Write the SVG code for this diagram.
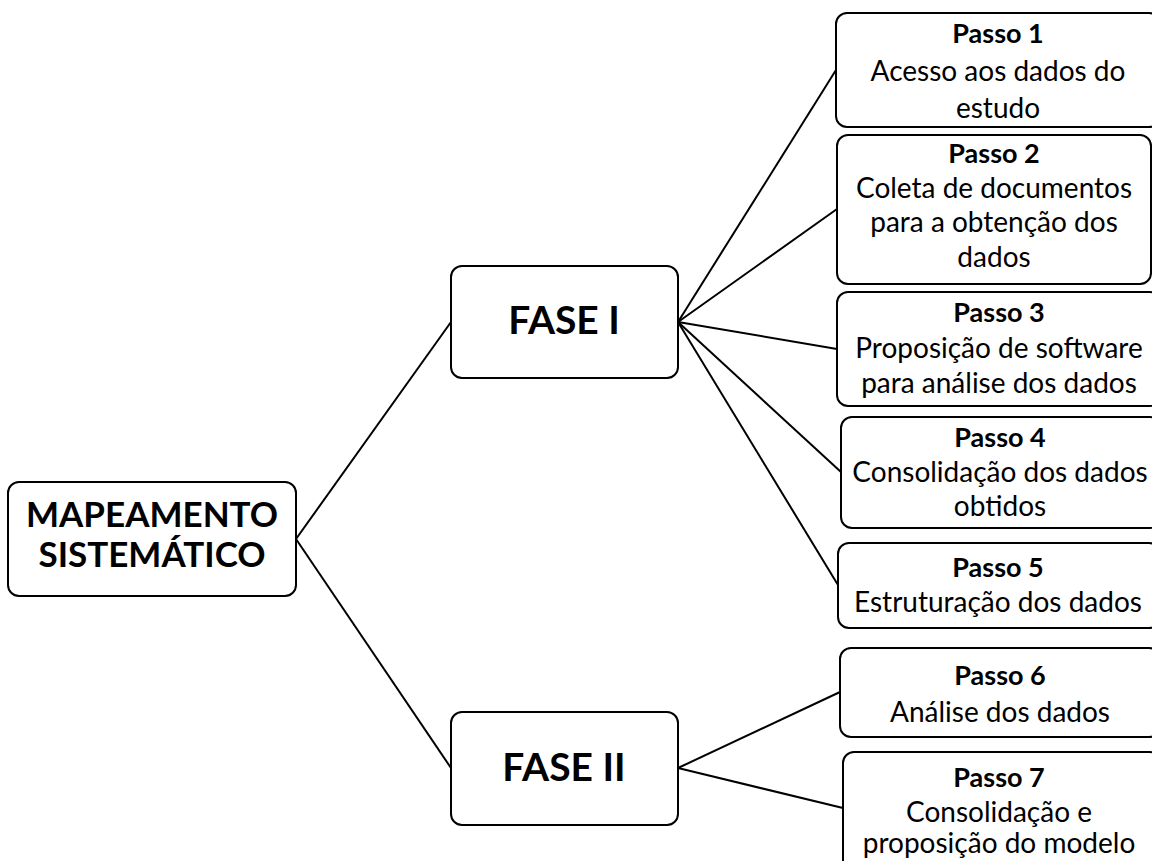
<svg xmlns="http://www.w3.org/2000/svg" width="1152" height="861" viewBox="0 0 1152 861">
  <style>
    .box { fill: #ffffff; stroke: #000000; stroke-width: 2; }
    .link { fill: none; stroke: #000000; stroke-width: 2; }
    text { font-family: Lato, "Open Sans", "Liberation Sans", sans-serif; fill: #000000; text-anchor: middle; }
    .big { font-weight: bold; font-size: 35px; }
    .phase { font-weight: bold; font-size: 39px; }
    .step { font-weight: bold; font-size: 27px; }
    .desc { font-size: 28px; }
  </style>

  <!-- connectors -->
  <g id="connectors">
    <line class="link" x1="296" y1="539" x2="451" y2="322"/>
    <line class="link" x1="296" y1="539" x2="451" y2="768"/>
    <line class="link" x1="678" y1="322" x2="836" y2="70"/>
    <line class="link" x1="678" y1="322" x2="837" y2="209"/>
    <line class="link" x1="678" y1="322" x2="837" y2="349"/>
    <line class="link" x1="678" y1="322" x2="841" y2="472"/>
    <line class="link" x1="678" y1="322" x2="838" y2="585"/>
    <line class="link" x1="678" y1="768" x2="840" y2="692"/>
    <line class="link" x1="678" y1="768" x2="843" y2="808"/>
  </g>

  <!-- root -->
  <g id="mapeamento">
    <rect class="box" x="8" y="482" width="288" height="114" rx="11"/>
    <text class="big" x="152" y="527">MAPEAMENTO</text>
    <text class="big" x="152" y="567">SISTEMÁTICO</text>
  </g>

  <!-- phases -->
  <g id="fase1">
    <rect class="box" x="451" y="266" width="227" height="112" rx="11"/>
    <text class="phase" x="564" y="334">FASE I</text>
  </g>
  <g id="fase2">
    <rect class="box" x="451" y="712" width="227" height="113" rx="11"/>
    <text class="phase" x="564" y="781">FASE II</text>
  </g>

  <!-- steps -->
  <g id="passo1">
    <rect class="box" x="836" y="13" width="324" height="114" rx="11"/>
    <text class="step" x="998" y="43">Passo 1</text>
    <text class="desc" x="998" y="81">Acesso aos dados do</text>
    <text class="desc" x="998" y="118">estudo</text>
  </g>
  <g id="passo2">
    <rect class="box" x="837" y="135" width="314" height="149" rx="11"/>
    <text class="step" x="994" y="163">Passo 2</text>
    <text class="desc" x="994" y="198">Coleta de documentos</text>
    <text class="desc" x="994" y="232">para a obtenção dos</text>
    <text class="desc" x="994" y="267">dados</text>
  </g>
  <g id="passo3">
    <rect class="box" x="837" y="292" width="324" height="114" rx="11"/>
    <text class="step" x="999" y="322">Passo 3</text>
    <text class="desc" x="999" y="358">Proposição de software</text>
    <text class="desc" x="999" y="393">para análise dos dados</text>
  </g>
  <g id="passo4">
    <rect class="box" x="841" y="417" width="320" height="111" rx="11"/>
    <text class="step" x="1000" y="447">Passo 4</text>
    <text class="desc" x="1000" y="482">Consolidação dos dados</text>
    <text class="desc" x="1000" y="516">obtidos</text>
  </g>
  <g id="passo5">
    <rect class="box" x="838" y="543" width="322" height="85" rx="11"/>
    <text class="step" x="998" y="577">Passo 5</text>
    <text class="desc" x="998" y="612">Estruturação dos dados</text>
  </g>
  <g id="passo6">
    <rect class="box" x="840" y="648" width="320" height="89" rx="11"/>
    <text class="step" x="1000" y="685">Passo 6</text>
    <text class="desc" x="1000" y="722">Análise dos dados</text>
  </g>
  <g id="passo7">
    <rect class="box" x="843" y="752" width="318" height="120" rx="11"/>
    <text class="step" x="999" y="787">Passo 7</text>
    <text class="desc" x="999" y="822">Consolidação e</text>
    <text class="desc" x="999" y="853">proposição do modelo</text>
  </g>
</svg>
